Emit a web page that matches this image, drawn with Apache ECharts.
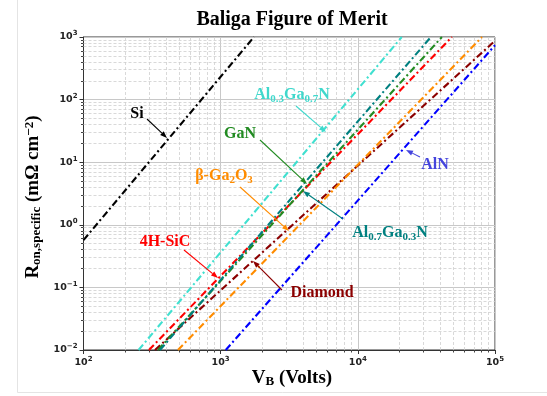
<!DOCTYPE html>
<html><head><meta charset="utf-8">
<script src="https://cdn.jsdelivr.net/npm/echarts@6/dist/echarts.min.js"></script>
<style>html,body{margin:0;padding:0;background:#fff}#chart{width:547px;height:396px}</style>
</head><body><div id="chart"></div><script>
// Unipolar limit lines: breakdown voltage V_B (V) and specific on-resistance (mΩ·cm²)
const siV = [100, 1750];         const siR = [0.57, 1000];
const algan03V = [252, 20900];   const algan03R = [0.01, 1000];
const sicV = [300, 48500];       const sicR = [0.01, 1000];
const diamondV = [332, 100000];  const diamondR = [0.01, 870];
const ganV = [349, 41000];       const ganR = [0.01, 1000];
const algan07V = [361, 34100];   const algan07R = [0.01, 1000];
const ga2o3V = [488, 80400];     const ga2o3R = [0.01, 1000];
const alnV = [1089, 100000];     const alnR = [0.01, 740];

const xMajor = [100, 1000, 10000, 100000];
const yMajor = [0.01, 0.1, 1, 10, 100, 1000];
const minorOf = (majors) => {
  const out = [];
  for (let i = 0; i < majors.length - 1; i++) for (let k = 2; k <= 9; k++) out.push(+(majors[i] * k).toPrecision(3));
  return out;
};
const xMinor = minorOf(xMajor);
const yMinor = minorOf(yMajor);

const SERIF = '"Liberation Serif", "Times New Roman", serif';
const DASHDOT = [7, 3, 2, 3];

const materials = [
  { name: 'Si', V: siV, R: siR, color: '#000000' },
  { name: 'Al0.3Ga0.7N', V: algan03V, R: algan03R, color: '#40e0d0' },
  { name: '4H-SiC', V: sicV, R: sicR, color: '#ff0000' },
  { name: 'Diamond', V: diamondV, R: diamondR, color: '#8b0000' },
  { name: 'β-Ga2O3', V: ga2o3V, R: ga2o3R, color: '#ff8c00' },
  { name: 'GaN', V: ganV, R: ganR, color: '#228b22' },
  { name: 'Al0.7Ga0.3N', V: algan07V, R: algan07R, color: '#008080' },
  { name: 'AlN', V: alnV, R: alnR, color: '#0000ff' }
];

function powLabel(v) {
  const e = Math.round(Math.log10(v));
  return '{b|10}{e|' + (e < 0 ? '\u2212' + (-e) : e) + '}';
}
const tickRich = {
  b: { fontFamily: 'DejaVu Sans', fontWeight: 'bold', fontSize: 9.5, color: '#222', lineHeight: 14 },
  e: { fontFamily: 'DejaVu Sans', fontWeight: 'bold', fontSize: 7, color: '#222', lineHeight: 7, padding: [0, 0, 7, 0] }
};

const series = materials.map((m) => ({
  type: 'line',
  name: m.name,
  data: m.V.map((v, j) => [v, m.R[j]]),
  showSymbol: false,
  symbol: 'none',
  lineStyle: { color: m.color, width: 2.1, type: DASHDOT },
  z: 3,
  silent: true,
  animation: false
}));
// dashed minor grid on the log scales
series.push({
  type: 'line', data: [], silent: true, animation: false,
  markLine: {
    silent: true, symbol: 'none', animation: false, z: 1,
    label: { show: false },
    lineStyle: { color: '#cfcfcf', width: 0.8, type: [3, 2] },
    emphasis: { disabled: true },
    data: xMinor.map(v => ({ xAxis: v })).concat(yMinor.map(v => ({ yAxis: v })))
  }
});

// annotation text & arrows (pixel layout)
const serifTok = (size, color) => ({ font: 'bold ' + size + 'px ' + SERIF, fill: color, lineHeight: 20 });
const subTok = (size, color) => ({ font: 'bold ' + size + 'px ' + SERIF, fill: color, lineHeight: size, padding: [20 - size, 0, 0, 0] });
const supTok = (size, color) => ({ font: 'bold ' + size + 'px ' + SERIF, fill: color, lineHeight: size, padding: [0, 0, 20 - size, 0] });

function label(text, x, y, color, size) {
  size = size || 16;
  return {
    type: 'text', x: x, y: y, z: 10,
    style: {
      text: text, align: 'center', verticalAlign: 'middle',
      rich: { m: serifTok(size, color), s: subTok(Math.round(size * 0.68), color), p: supTok(Math.round(size * 0.68), color) }
    }
  };
}
function arrow(x1, y1, x2, y2, color) {
  const a = Math.atan2(y2 - y1, x2 - x1), L = 7, W = 2.6;
  const bx = x2 - L * Math.cos(a), by = y2 - L * Math.sin(a);
  return [
    { type: 'line', z: 10, shape: { x1: x1, y1: y1, x2: bx, y2: by }, style: { stroke: color, lineWidth: 1.1 } },
    { type: 'polygon', z: 10, shape: { points: [[x2, y2], [bx - W * Math.sin(a), by + W * Math.cos(a)], [bx + W * Math.sin(a), by - W * Math.cos(a)]] }, style: { fill: color } }
  ];
}

const graphic = [
  { type: 'rect', z: 0, shape: { x: 17.5, y: -2, width: 560, height: 394.5 }, style: { fill: 'none', stroke: '#e4e4e4', lineWidth: 1 } },
  { type: 'text', x: 292, y: 20, style: { text: 'Baliga Figure of Merit', font: 'bold 20px ' + SERIF, fill: '#000', align: 'center', verticalAlign: 'middle' } },
  label('{m|V}{s|B}{m| (Volts)}', 292, 378, '#000', 19),
  Object.assign(label('{m|R}{s|on,specific}{m| (mΩ cm}{p|\u22122}{m|)}', 33, 197, '#000', 19), { rotation: Math.PI / 2 }),
  label('{m|Si}', 137, 114, '#000'),
  ...arrow(147, 119, 167, 138, '#000'),
  label('{m|Al}{s|0.3}{m|Ga}{s|0.7}{m|N}', 292, 95, '#40d8cc'),
  ...arrow(296, 106, 326, 132, '#40d8cc'),
  label('{m|GaN}', 240, 134, '#228b22'),
  ...arrow(260, 140, 307, 184, '#228b22'),
  label('{m|β-Ga}{s|2}{m|O}{s|3}', 224, 176, '#ff8c00'),
  ...arrow(240, 187, 289, 231, '#ff8c00'),
  label('{m|Al}{s|0.7}{m|Ga}{s|0.3}{m|N}', 390, 233, '#008080'),
  ...arrow(343, 219, 303, 191, '#008080'),
  label('{m|AlN}', 435, 165, '#4444dd'),
  ...arrow(420, 157, 406, 150, '#4444dd'),
  label('{m|4H-SiC}', 165, 242, '#ff0000'),
  ...arrow(184, 250, 218, 278, '#ff0000'),
  label('{m|Diamond}', 322, 293, '#8b0000'),
  ...arrow(282, 290, 253, 261, '#8b0000')
];

const axisCommon = {
  type: 'log', logBase: 10,
  axisLine: { show: true, lineStyle: { color: '#333', width: 1 } },
  axisTick: { show: true, inside: false, length: 4, lineStyle: { color: '#333' } },
  splitLine: { show: true, lineStyle: { color: '#c8c8c8', width: 1 } },
  minorTick: { show: false }, minorSplitLine: { show: false }
};
const minorAxis = (min, max, values, pos) => ({
  type: 'log', logBase: 10, min: min, max: max, position: pos, offset: 0,
  axisLine: { show: false }, axisLabel: { show: false }, splitLine: { show: false },
  axisTick: { show: true, length: 2.5, customValues: values, lineStyle: { color: '#444' } }
});

const chart = echarts.init(document.getElementById('chart'), null, { renderer: 'canvas' });
chart.setOption({
  animation: false,
  backgroundColor: '#fff',
  grid: { left: 83.5, right: 52, top: 37, bottom: 46, show: true, borderColor: '#333', borderWidth: 1, backgroundColor: 'transparent' },
  xAxis: [
    Object.assign({}, axisCommon, {
      min: 100, max: 100000, position: 'bottom',
      axisLabel: { formatter: powLabel, rich: tickRich, margin: 6 }
    }),
    minorAxis(100, 100000, xMinor, 'bottom')
  ],
  yAxis: [
    Object.assign({}, axisCommon, {
      min: 0.01, max: 1000, position: 'left',
      axisLabel: { formatter: powLabel, rich: tickRich, margin: 6 }
    }),
    minorAxis(0.01, 1000, yMinor, 'left')
  ],
  series: series,
  graphic: graphic
});
</script></body></html>
